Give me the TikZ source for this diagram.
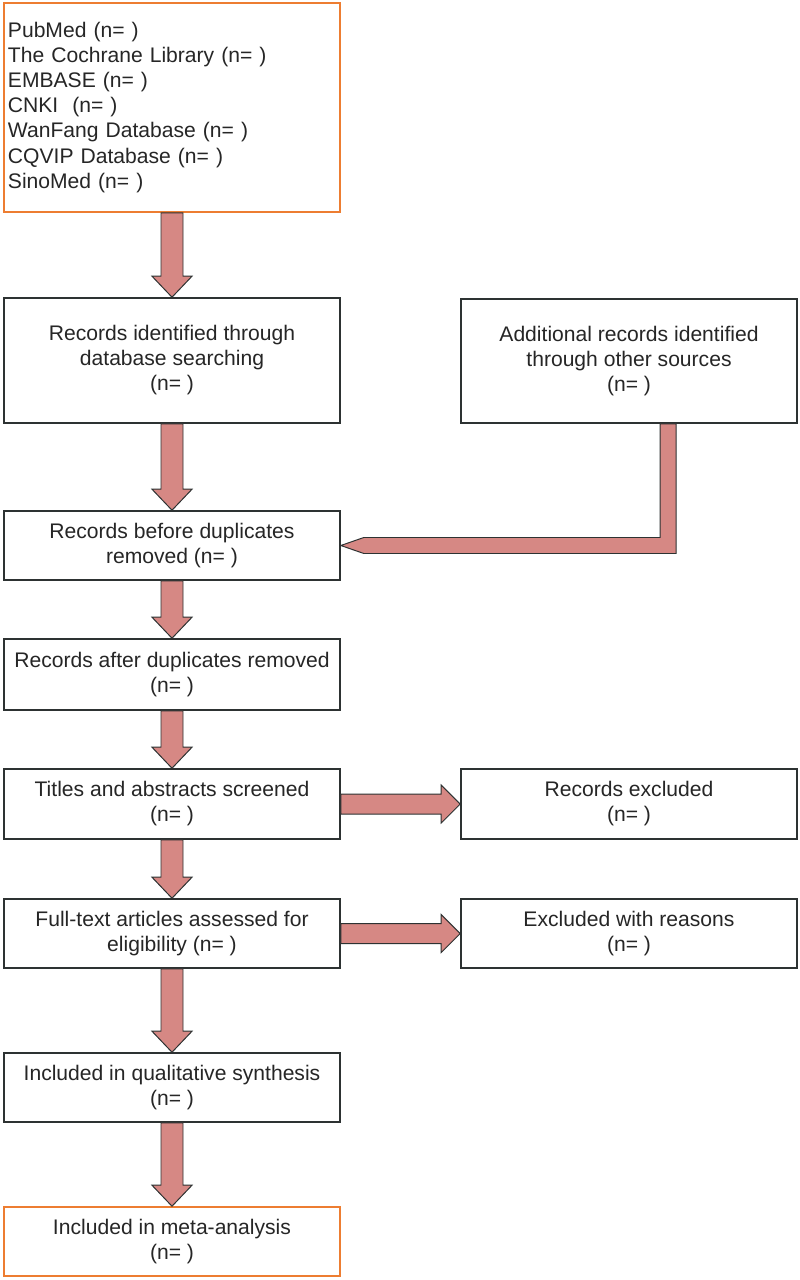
\documentclass[tikz,border=0pt]{standalone}
\usepackage{fontspec}
\setmainfont{Liberation Sans}
\usepackage{tikz}
\usetikzlibrary{calc, positioning}
\definecolor{arrowFill}{RGB}{214,136,132}
\definecolor{boxLine}{RGB}{45,50,50}
\definecolor{srcLine}{RGB}{237,125,49}
\tikzstyle{flowBox}=[draw=boxLine, line width=1.1pt, fill=white, minimum width=8.4cm,
  inner sep=0.1cm, align=center, text=black!85, font=\fontsize{15}{17.8}\selectfont]
\tikzstyle{srcBox}=[flowBox, draw=srcLine]
\tikzstyle{bigArrow}=[fill=arrowFill, draw=boxLine, line width=0.7pt, line join=miter]
\newcommand{\fatDown}[2]{%
  \draw[bigArrow] ($(#1.south)+(-11,0)$) -- ($(#2.north)+(-11,-21)$)
    -- ($(#2.north)+(-20,-21)$) -- (#2.north) -- ($(#2.north)+(20,-21)$)
    -- ($(#2.north)+(11,-21)$) -- ($(#1.south)+(11,0)$) -- cycle;}
\newcommand{\fatRight}[2]{%
  \draw[bigArrow] ($(#1.east)+(0,-10)$) -- ($(#2.west)+(-19,-10)$)
    -- ($(#2.west)+(-19,-19)$) -- (#2.west) -- ($(#2.west)+(-19,19)$)
    -- ($(#2.west)+(-19,10)$) -- ($(#1.east)+(0,10)$) -- cycle;}

\begin{document}
\begin{tikzpicture}[x=0.025cm, y=-0.025cm]
      \useasboundingbox (0,0) rectangle (800,1280);

      \node[srcBox, minimum height=5.225cm, text width=8.2cm, align=left] (dbs) at (172,107.5)
        {PubMed (n= )\\The Cochrane Library (n= )\\EMBASE (n= )\\CNKI~ (n= )\\
         WanFang Database (n= )\\CQVIP Database (n= )\\SinoMed (n= )};
      \node[flowBox, minimum height=3.125cm] (ident) at (172,360.5)
        {Records identified through\\database searching\\(n= )};
      \node[flowBox, minimum height=3.1cm] (add) at (629,361)
        {Additional records identified\\through other sources\\(n= )};
      \node[flowBox, minimum height=1.725cm] (before) at (172,545.5)
        {Records before duplicates\\removed (n= )};
      \node[flowBox, minimum height=1.775cm] (after) at (172,674.5)
        {Records after duplicates removed\\(n= )};
      \node[flowBox, minimum height=1.75cm] (titles) at (172,804)
        {Titles and abstracts screened\\(n= )};
      \node[flowBox, minimum height=1.75cm] (excl) at (629,804)
        {Records excluded\\(n= )};
      \node[flowBox, minimum height=1.725cm] (full) at (172,933.5)
        {Full-text articles assessed for\\eligibility (n= )};
      \node[flowBox, minimum height=1.725cm] (reasons) at (629,933.5)
        {Excluded with reasons\\(n= )};
      \node[flowBox, minimum height=1.725cm] (qual) at (172,1087.5)
        {Included in qualitative synthesis\\(n= )};
      \node[srcBox, minimum height=1.725cm] (meta) at (172,1241.5)
        {Included in meta-analysis\\(n= )};

      \fatDown{dbs}{ident}
      \fatDown{ident}{before}
      \fatDown{before}{after}
      \fatDown{after}{titles}
      \fatDown{titles}{full}
      \fatDown{full}{qual}
      \fatDown{qual}{meta}
      \fatRight{titles}{excl}
      \fatRight{full}{reasons}

      % other sources join the main line
      \draw[bigArrow] ($(add.south)+(31,0)$) |- ($(before.east)+(23,-8)$) -- (before.east)
        -- ($(before.east)+(23,8)$) -| ($(add.south)+(47,0)$) -- cycle;
\end{tikzpicture}
\end{document}
